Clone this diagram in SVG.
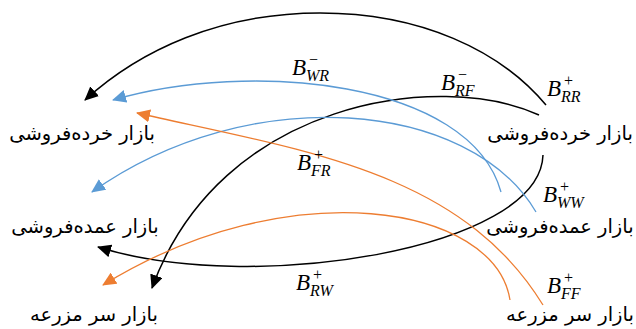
<svg xmlns="http://www.w3.org/2000/svg" width="636" height="329" viewBox="0 0 636 329">
<style>
.fa{font-family:"DejaVu Sans",sans-serif;font-size:19.5px;fill:#000;text-anchor:middle}
.m{font-family:"Liberation Serif",serif;font-style:italic;fill:#000}
.b{font-size:23px}
.s{font-size:16px}
.k{fill:none;stroke:#000;stroke-width:1.5}
.bl{fill:none;stroke:#5b9bd5;stroke-width:1.3}
.or{fill:none;stroke:#ed7d31;stroke-width:1.3}
</style>
<defs>
<marker id="ak" viewBox="0 0 14 13" refX="13" refY="6.5" markerWidth="14" markerHeight="13" markerUnits="userSpaceOnUse" orient="auto"><path d="M0,0 L14,6.5 L0,13 z" fill="#000"/></marker>
<marker id="ab" viewBox="0 0 14 13" refX="13" refY="6.5" markerWidth="14" markerHeight="13" markerUnits="userSpaceOnUse" orient="auto"><path d="M0,0 L14,6.5 L0,13 z" fill="#5b9bd5"/></marker>
<marker id="ao" viewBox="0 0 14 13" refX="13" refY="6.5" markerWidth="14" markerHeight="13" markerUnits="userSpaceOnUse" orient="auto"><path d="M0,0 L14,6.5 L0,13 z" fill="#ed7d31"/></marker>
</defs>
<g id="retail-left"><text class="fa" x="82" y="140">بازار خرده‌فروشی</text></g>
<g id="retail-right"><text class="fa" x="560" y="140">بازار خرده‌فروشی</text></g>
<g id="wholesale-left"><text class="fa" x="85" y="233">بازار عمده‌فروشی</text></g>
<g id="wholesale-right"><text class="fa" x="560" y="233">بازار عمده‌فروشی</text></g>
<g id="farm-left"><text class="fa" x="94" y="321">بازار سر مزرعه</text></g>
<g id="farm-right"><text class="fa" x="570" y="321">بازار سر مزرعه</text></g>
<g id="connectors">
<g id="e-RR"><path class="k" d="M546,105 C500,50 420,13 320,13 C220,13 140,50 85,100" marker-end="url(#ak)"/>
<text class="m b" x="547" y="96">B</text><text class="m s" x="563" y="86">+</text><text class="m s" x="561" y="102">RR</text></g>
<g id="e-RF"><path class="k" d="M539,115 C440,70 220,100 152,288" marker-end="url(#ak)"/>
<text class="m b" x="441" y="90">B</text><text class="m s" x="457" y="80">−</text><text class="m s" x="455" y="96">RF</text></g>
<g id="e-RW"><path class="k" d="M543,155 C540,250 250,295 98,247" marker-end="url(#ak)"/>
<text class="m b" x="296" y="290">B</text><text class="m s" x="312" y="280">+</text><text class="m s" x="310" y="296">RW</text></g>
<g id="e-WR"><path class="bl" d="M501,192 C470,80 250,60 113,100" marker-end="url(#ab)"/>
<text class="m b" x="292" y="75">B</text><text class="m s" x="308" y="65">−</text><text class="m s" x="306" y="81">WR</text></g>
<g id="e-WW"><path class="bl" d="M536,212 C470,100 250,80 92,192" marker-end="url(#ab)"/>
<text class="m b" x="543" y="202">B</text><text class="m s" x="559" y="192">+</text><text class="m s" x="557" y="208">WW</text></g>
<g id="e-FR"><path class="or" d="M543,305 C460,170 300,150 137,113" marker-end="url(#ao)"/>
<text class="m b" x="297" y="170">B</text><text class="m s" x="313" y="160">+</text><text class="m s" x="311" y="176">FR</text></g>
<g id="e-FF"><path class="or" d="M510,300 C495,205 290,170 103,285" marker-end="url(#ao)"/>
<text class="m b" x="547" y="293">B</text><text class="m s" x="563" y="283">+</text><text class="m s" x="561" y="299">FF</text></g>
</g>
</svg>
